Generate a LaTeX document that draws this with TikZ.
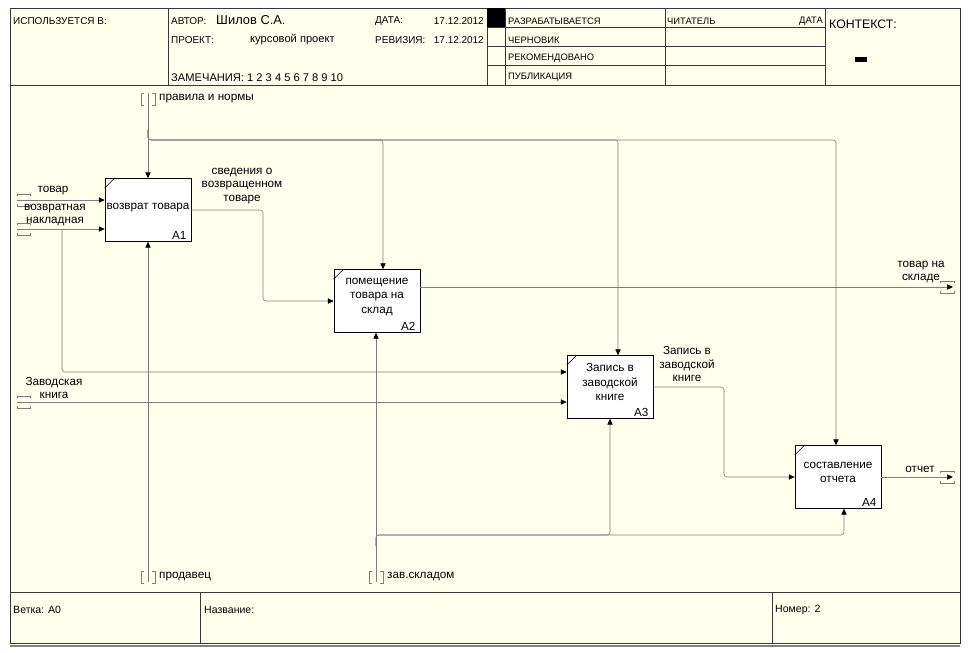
\documentclass[tikz,border=0pt]{standalone}
\usepackage{fontspec}
\setmainfont{Liberation Sans}
\usetikzlibrary{arrows.meta}
\definecolor{paper}{RGB}{255,255,238}
\definecolor{wire}{RGB}{125,125,125}
\definecolor{rule}{RGB}{55,55,55}

\begin{document}
\begin{tikzpicture}[
    x=0.03cm, y=-0.03cm,
    box/.style={draw, fill=white, line width=0.6pt, minimum width=2.58cm, minimum height=1.89cm, inner sep=0pt},
    boxtext/.style={font=\fontsize{10}{12}\selectfont, align=center, inner sep=0pt},
    num/.style={font=\fontsize{10}{11}\selectfont, anchor=south east, inner xsep=4pt, inner ysep=2pt},
    lbl/.style={font=\fontsize{10}{11.5}\selectfont, align=center, inner sep=0pt},
    hdr/.style={font=\fontsize{8.5}{10}\selectfont, anchor=west, inner sep=0pt},
    stat/.style={font=\fontsize{8}{10}\selectfont, anchor=west, inner sep=0pt},
    link/.style={draw=wire, line width=0.5pt, rounded corners=2.5pt, -{Triangle[length=5pt,width=4.5pt,black]}},
    tun/.style={draw=wire, line width=0.5pt},
  ]
    \useasboundingbox (0,0) rectangle (969,653);
    \fill[paper] (10,8) rectangle (960,643);

    % frame, header and footer
    \draw[gray, line width=1.2pt] (10,646) -- (960,646);
    \draw[rule, line width=0.8pt] (10,8) rectangle (960,643);
    \draw[rule, line width=0.6pt] (10,85) -- (960,85);
    \foreach \x in {168,487,505,665,825}
      \draw[rule, line width=0.6pt] (\x,8) -- (\x,85);
    \foreach \y in {27,46,65}
      \draw[rule, line width=0.6pt] (487,\y) -- (825,\y);
    \fill (487,8) rectangle (505,27);
    \fill (855,57) rectangle (867,62);
    \draw[rule, line width=0.6pt] (10,592) -- (960,592);
    \draw[rule, line width=0.6pt] (200,592) -- (200,643);
    \draw[rule, line width=0.6pt] (772,592) -- (772,643);

    \node[hdr] (usedIn) at (13,21) {ИСПОЛЬЗУЕТСЯ В:};
    \node[hdr] (author) at (171,21) {АВТОР:};
    \node[hdr, font=\fontsize{11}{13}\selectfont] (authorName) at (216,20) {Шилов С.А.};
    \node[hdr] (date) at (375,21) {ДАТА:};
    \node[hdr, anchor=east] (dateVal) at (484,21) {17.12.2012};
    \node[hdr] (project) at (171,40) {ПРОЕКТ:};
    \node[hdr, font=\fontsize{9.5}{11}\selectfont] (projectName) at (250,40) {курсовой проект};
    \node[hdr] (revision) at (375,40) {РЕВИЗИЯ:};
    \node[hdr, anchor=east] (revisionVal) at (484,40) {17.12.2012};
    \node[hdr, font=\fontsize{9.5}{11}\selectfont] (notes) at (171,78) {ЗАМЕЧАНИЯ: 1 2 3 4 5 6 7 8 9 10};
    \foreach \t/\y [count=\i] in {РАЗРАБАТЫВАЕТСЯ/21, ЧЕРНОВИК/40, РЕКОМЕНДОВАНО/58, ПУБЛИКАЦИЯ/77}
      \node[stat] (status\i) at (508,\y) {\t};
    \node[stat] (reader) at (667,21) {ЧИТАТЕЛЬ};
    \node[stat, anchor=east] (readerDate) at (823,21) {ДАТА};
    \node[hdr, font=\fontsize{10.5}{12}\selectfont] (context) at (829,24) {КОНТЕКСТ:};
    \node[hdr, font=\fontsize{9}{11}\selectfont] (branch) at (13,610) {Ветка: A0};
    \node[hdr, font=\fontsize{9}{11}\selectfont] (title) at (204,610) {Название:};
    \node[hdr, font=\fontsize{9}{11}\selectfont] (number) at (775,610) {Номер: 2};

    % activity boxes
    \node[box] (box1) at (148,210) {};
    \node[box] (box2) at (377,301) {};
    \node[box] (box3) at (610,387) {};
    \node[box] (box4) at (838,477) {};
    \foreach \b in {box1,box2,box3,box4}
      \draw ([yshift=-0.3cm]\b.north west) -- ([xshift=0.3cm]\b.north west);
    \node[boxtext] (text1) at ([yshift=0.08cm]box1.center) {возврат товара};
    \node[boxtext] (text2) at ([yshift=0.12cm]box2.center) {помещение\\товара на\\склад};
    \node[boxtext] (text3) at ([yshift=0.15cm]box3.center) {Запись в\\заводской\\книге};
    \node[boxtext] (text4) at ([yshift=0.15cm]box4.center) {составление\\отчета};
    \foreach \b [count=\i] in {box1,box2,box3,box4}
      \node[num] (num\i) at (\b.south east) {A\i};

    % tunnel ends
    \coordinate (in1) at (17,200);
    \coordinate (in2) at (17,229);
    \coordinate (in3) at (17,402);
    \coordinate (ctl) at (148,93);
    \coordinate (mec1) at (148,582);
    \coordinate (mec2) at (376,582);
    \coordinate (out1) at (953,287);
    \coordinate (out2) at (953,477);
    \coordinate (split) at (62,229);
    \coordinate (cbr) at (148,130);
    \coordinate (cbus) at (148,140);
    \coordinate (mbr) at (376,546);
    \coordinate (mbus) at (376,535);
    \coordinate (jog1) at (263,255);
    \coordinate (jog2) at (724,430);

    \foreach \y in {200,229,402} {
      \draw[tun] (17,\y-4) -- (17,\y-6) -- (30,\y-6) -- (30,\y-4);
      \draw[tun] (17,\y+4) -- (17,\y+6) -- (30,\y+6) -- (30,\y+4);
    }
    \foreach \x/\y in {148/93, 148/571, 376/571} {
      \draw[tun] (\x-4,\y) -- (\x-7,\y) -- (\x-7,\y+12) -- (\x-4,\y+12);
      \draw[tun] (\x+4,\y) -- (\x+7,\y) -- (\x+7,\y+12) -- (\x+4,\y+12);
    }
    \foreach \y in {287,477} {
      \draw[tun] (940,\y-4) -- (940,\y-6) -- (954,\y-6) -- (954,\y-4);
      \draw[tun] (940,\y+4) -- (940,\y+6) -- (954,\y+6) -- (954,\y+4);
    }

    % inputs
    \draw[link] (in1) -- (in1 -| box1.west);
    \draw[link] (in2) -- (in2 -| box1.west);
    \draw[link] (split) |- ([yshift=0.45cm]box3.west);
    \draw[link] (in3) -- (in3 -| box3.west);

    % controls
    \draw[link] (ctl) -- (box1.north);
    \draw[link] (cbr) -- (cbus) -| ([xshift=0.18cm]box2.north);
    \draw[link] (cbr) -- (cbus) -| ([xshift=0.24cm]box3.north);
    \draw[link] (cbr) -- (cbus) -| ([xshift=-0.06cm]box4.north);

    % outputs
    \draw[link] (box1.east) -| (jog1) |- (box2.west);
    \draw[link] (box2.east |- out1) -- (out1);
    \draw[link] (box3.east) -| (jog2) |- (box4.west);
    \draw[link] (box4.east) -- (out2);

    % mechanisms
    \draw[link] (mec1) -- (box1.south);
    \draw[link] (mec2) -- (mec2 |- box2.south);
    \draw[link] (mbr) -- (mbus) -| (box3.south);
    \draw[link] (mbr) -- (mbus) -| ([xshift=0.18cm]box4.south);

    % arrow labels
    \node[lbl] (lblGoods) at (53,191) {товар};
    \node[lbl] (lblInvoice) at (55,215) {возвратная\\накладная};
    \node[lbl] (lblInfo) at (242,186) {сведения о\\возвращенном\\товаре};
    \node[lbl] (lblStored) at (921,272) {товар на\\складе};
    \node[lbl] (lblRecord) at (687,364) {Запись в\\заводской\\книге};
    \node[lbl] (lblBook) at (54,388) {Заводская\\книга};
    \node[lbl] (lblReport) at (920,469) {отчет};
    \node[lbl, anchor=west] (lblRules) at (159,99) {правила и нормы};
    \node[lbl, anchor=west] (lblSeller) at (159,577) {продавец};
    \node[lbl, anchor=west] (lblKeeper) at (387,577) {зав.складом};
\end{tikzpicture}
\end{document}
